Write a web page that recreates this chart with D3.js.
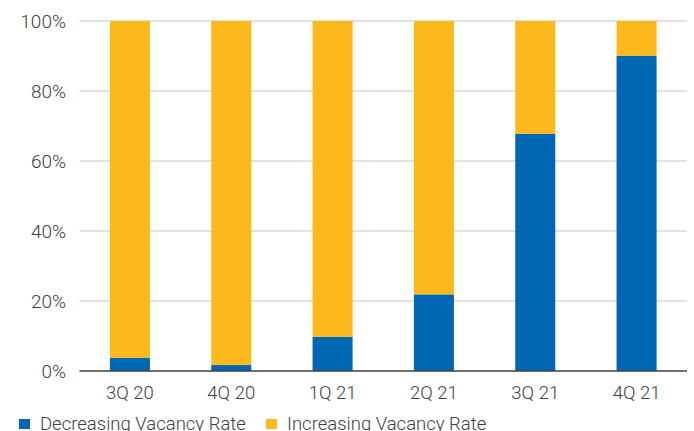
<!DOCTYPE html>
<html><head><meta charset="utf-8">
<script src="https://cdn.jsdelivr.net/npm/d3@7"></script>
<style>body{margin:0;background:#fff}svg{display:block}text{font-family:Roboto,"Open Sans",sans-serif;fill:#404040}</style>
</head><body>
<script>
const categories = ["3Q 20","4Q 20","1Q 21","2Q 21","3Q 21","4Q 21"];
const decreasing = [3.8, 1.7, 9.8, 21.9, 67.8, 90.1];
const increasing = [96.2, 98.3, 90.2, 78.1, 32.2, 9.9];
const yTicks = [0,20,40,60,80,100];
const seriesNames = ["Decreasing Vacancy Rate","Increasing Vacancy Rate"];
const colors = ["#0068B3","#FDB81C"];

const W=694,H=431;
const svg=d3.select("body").append("svg").attr("width",W).attr("height",H);
const x=d3.scaleBand().domain(categories).range([79.5,687]).paddingInner(0.605).paddingOuter(0.3);
const y=d3.scaleLinear().domain([0,100]).range([371,21]);

// gridlines
svg.append("g").selectAll("line").data(yTicks.filter(d=>d>0)).join("line")
  .attr("x1",79.5).attr("x2",687).attr("y1",d=>y(d)).attr("y2",d=>y(d))
  .attr("stroke","#d9d9d9").attr("stroke-width",1.3);

const rows=categories.map((c,i)=>({cat:c,dec:decreasing[i],inc:increasing[i]}));
const stack=d3.stack().keys(["dec","inc"])(rows);
svg.append("g").selectAll("g").data(stack).join("g").attr("fill",(d,i)=>colors[i])
  .selectAll("rect").data(d=>d).join("rect")
  .attr("x",d=>x(d.data.cat)).attr("width",x.bandwidth())
  .attr("y",d=>y(d[1])).attr("height",d=>y(d[0])-y(d[1]));

// axis line
svg.append("line").attr("x1",79.5).attr("x2",687).attr("y1",y(0)).attr("y2",y(0))
  .attr("stroke","#404040").attr("stroke-width",1.6);

// y labels
svg.append("g").selectAll("text").data(yTicks).join("text")
  .attr("x",66).attr("y",d=>y(d)).attr("dy","0.36em").attr("text-anchor","end")
  .attr("font-size",19).attr("font-weight",300).text(d=>d+"%");

// x labels
svg.append("g").selectAll("text").data(categories).join("text")
  .attr("x",d=>x(d)+x.bandwidth()/2).attr("y",399).attr("text-anchor","middle")
  .attr("font-size",18.5).attr("font-weight",300).text(d=>d);

// legend
const lx=[19,266];
const lg=svg.append("g").selectAll("g").data(seriesNames).join("g")
  .attr("transform",(d,i)=>`translate(${lx[i]},0)`);
lg.append("rect").attr("x",0).attr("y",419).attr("width",11).attr("height",10).attr("fill",(d,i)=>colors[i]);
lg.append("text").attr("x",21).attr("y",430).attr("font-size",18.5).attr("font-weight",300).text(d=>d);
</script>
</body></html>
